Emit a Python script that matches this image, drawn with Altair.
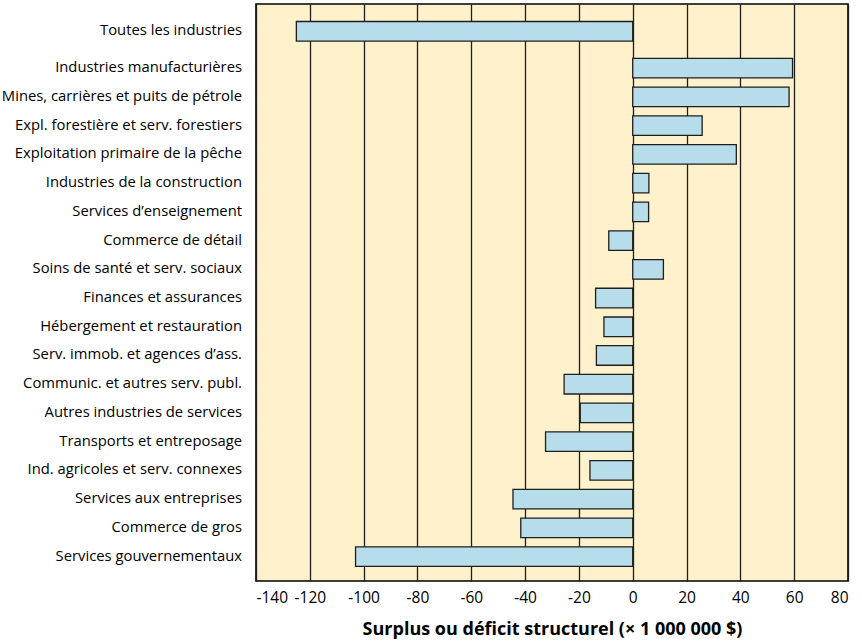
import altair as alt
import pandas as pd

# Secteurs, du total en haut jusqu'aux services gouvernementaux en bas
secteurs = [
    "Toutes les industries",
    "Industries manufacturières",
    "Mines, carrières et puits de pétrole",
    "Expl. forestière et serv. forestiers",
    "Exploitation primaire de la pêche",
    "Industries de la construction",
    "Services d’enseignement",
    "Commerce de détail",
    "Soins de santé et serv. sociaux",
    "Finances et assurances",
    "Hébergement et restauration",
    "Serv. immob. et agences d’ass.",
    "Communic. et autres serv. publ.",
    "Autres industries de services",
    "Transports et entreposage",
    "Ind. agricoles et serv. connexes",
    "Services aux entreprises",
    "Commerce de gros",
    "Services gouvernementaux",
]

# Surplus (+) ou déficit (-) structurel, en millions de dollars
valeurs = [
    -125.0, 59.4, 58.1, 25.8, 38.5, 6.0, 5.9, -8.9, 11.4, -13.8,
    -10.7, -13.5, -25.5, -19.5, -32.4, -15.9, -44.5, -41.6, -103.0,
]

graduations_x = [-140, -120, -100, -80, -60, -40, -20, 0, 20, 40, 60, 80]

POLICE = "Open Sans"
FOND = "#FEF1CB"
BARRE = "#B7DDEA"
TRAIT = "#1E1E1E"

ECART = 0.285        # espace supplémentaire sous la ligne du total (en rangées)
DEMI_BARRE = 0.34    # demi-épaisseur d'une barre (en rangées)

df = pd.DataFrame({"secteur": secteurs, "valeur": valeurs})
df["rang"] = [i + (ECART if i > 0 else 0.0) for i in range(len(df))]

n = len(df)
echelle_y = alt.Scale(domain=[-0.95, (n - 1) + ECART + 0.85], reverse=True,
                      nice=False, zero=False)

base = alt.Chart(df)

barres = base.transform_calculate(
    haut="datum.rang - %f" % DEMI_BARRE,
    bas="datum.rang + %f" % DEMI_BARRE,
).mark_rect(fill=BARRE, stroke=TRAIT, strokeWidth=1.3).encode(
    x=alt.X(
        "valeur:Q",
        scale=alt.Scale(domain=[-140, 80], nice=False),
        axis=alt.Axis(
            values=graduations_x,
            labelExpr="'' + datum.value",
            grid=True,
            gridColor=TRAIT,
            gridWidth=1.3,
            gridOpacity=1,
            domain=False,
            ticks=False,
            labelFont=POLICE,
            labelFontSize=15.5,
            labelColor="#000000",
            labelPadding=9,
            title="Surplus ou déficit structurel (× 1 000 000 $)",
            titleFont=POLICE,
            titleFontSize=18,
            titleFontWeight="bold",
            titleColor="#000000",
            titleBaseline="alphabetic",
            titleY=53,
        ),
    ),
    x2=alt.datum(0),
    y=alt.Y("haut:Q", scale=echelle_y, axis=None),
    y2="bas:Q",
)

etiquettes = base.mark_text(
    align="right", baseline="middle", font=POLICE, fontSize=14.8, color="#000000"
).encode(
    x=alt.value(-14),
    y=alt.Y("rang:Q", scale=echelle_y, axis=None),
    text="secteur:N",
)

chart = alt.layer(barres, etiquettes).properties(
    width=592,
    height=577,
    autosize=alt.AutoSizeParams(type="none"),
    padding={"left": 256, "top": 4, "right": 14, "bottom": 60},
    background="#FFFFFF",
).configure_view(
    fill=FOND,
    stroke="#000000",
    strokeWidth=1.6,
)

chart.save("out.html", embed_options={"renderer": "svg", "actions": False})
